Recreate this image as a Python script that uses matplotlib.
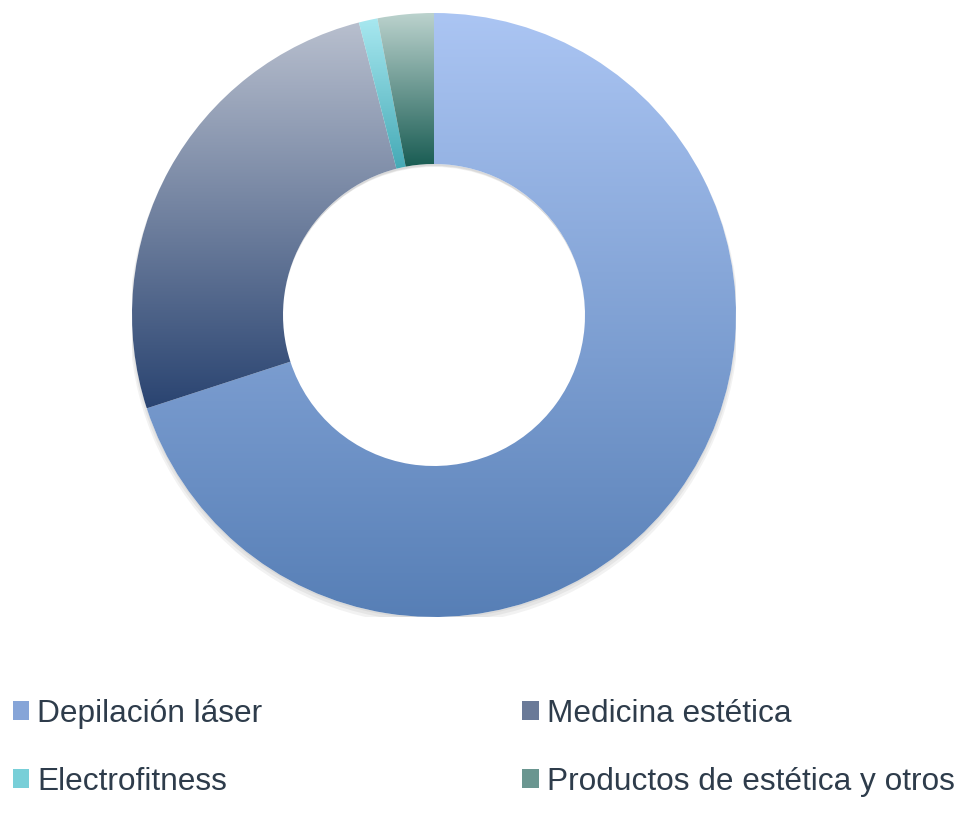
import numpy as np
import matplotlib
matplotlib.use('Agg')
import matplotlib.pyplot as plt
from matplotlib.patches import Patch, Wedge
from matplotlib.colors import LinearSegmentedColormap

plt.rcParams['font.family'] = ['Liberation Sans', 'DejaVu Sans']

labels = ['Depilación láser', 'Medicina estética', 'Electrofitness', 'Productos de estética y otros']
values = [70.0, 26.0, 1.0, 3.0]
top_colors = ['#abc5f3', '#b8bfce', '#a8e8f0', '#bbd2cd']
bottom_colors = ['#577fb6', '#2a4471', '#45aab6', '#195c53']
mid_colors = ['#86a5d8', '#6a7a98', '#78cfd8', '#6a9690']

fig = plt.figure(figsize=(9.65, 8.25), dpi=100)
R = 302
ax = fig.add_axes([(434 - R) / 965, (825 - 315 - R) / 825, 2 * R / 965, 2 * R / 825])
ax.set_xlim(-1, 1)
ax.set_ylim(-1, 1)
ax.set_aspect('equal')
ax.axis('off')

# soft shadow under the ring
for k, a in enumerate([0.05, 0.05, 0.05]):
    sh = Wedge((0.0, -0.006 * (k + 1)), 1.0 + 0.004 * k, 0, 360, width=0.5, facecolor='#000000',
               alpha=a, edgecolor='none', zorder=0)
    ax.add_patch(sh)

wedges, _ = ax.pie(values, startangle=90, counterclock=False, radius=1.0,
                   wedgeprops=dict(width=0.5, edgecolor='none'))

grad = np.linspace(0, 1, 256).reshape(-1, 1)
for w, c0, c1 in zip(wedges, top_colors, bottom_colors):
    w.set_facecolor('white')
    w.set_zorder(1)
    ext = w.get_path().get_extents(w.get_patch_transform())
    cmap = LinearSegmentedColormap.from_list('g', [c0, c1])
    im = ax.imshow(grad, cmap=cmap, aspect='auto', origin='upper',
                   extent=[ext.x0, ext.x1, ext.y0, ext.y1], zorder=2, interpolation='bilinear')
    im.set_clip_path(w)
ax.set_xlim(-1, 1)
ax.set_ylim(-1, 1)

handles = [Patch(facecolor=c, edgecolor='none') for c in mid_colors]
order = [0, 2, 1, 3]
leg = fig.legend([handles[i] for i in order], [labels[i] for i in order], ncol=2,
                 loc='upper left', bbox_to_anchor=(0.0, 1 - 686 / 825), frameon=False,
                 fontsize=22.8, handlelength=0.53, handleheight=0.53, handletextpad=0.25,
                 columnspacing=8.2, labelspacing=1.21, borderaxespad=0.0)
for t in leg.get_texts():
    t.set_color('#2e3c4b')

fig.savefig('out.png', dpi=100)
